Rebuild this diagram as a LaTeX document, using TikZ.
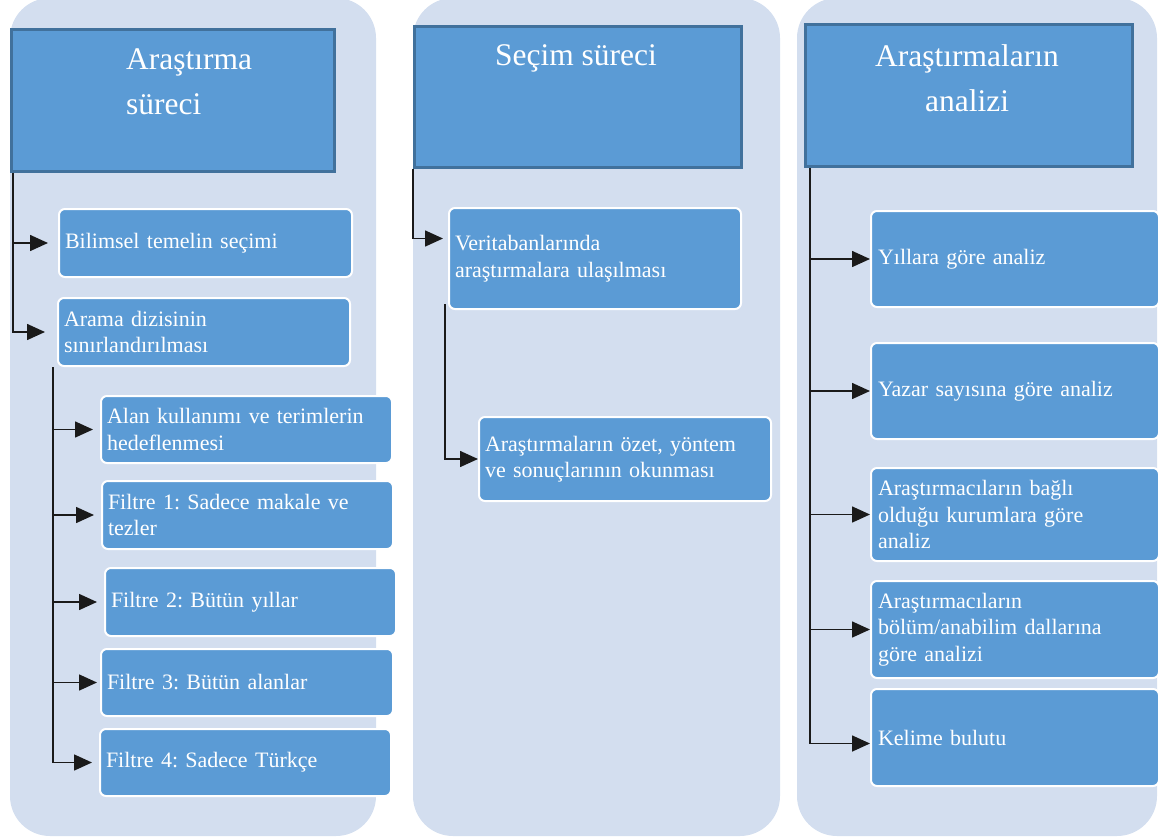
\documentclass[tikz,border=0pt]{standalone}
\usepackage{fontspec}
\setmainfont{Liberation Serif}
\usetikzlibrary{arrows.meta}
\definecolor{colbg}{HTML}{D3DEEF}
\definecolor{boxfill}{HTML}{5B9BD5}
\definecolor{hdrline}{HTML}{41719C}
\definecolor{lineink}{HTML}{1A1A1A}
\tikzset{
  column/.style={fill=colbg, rounded corners=40pt},
  hdr/.style={draw=hdrline, line width=2.5pt, fill=boxfill, anchor=north west, inner sep=0pt},
  hdrtext/.style={text=white, font=\fontsize{31.5}{45}\selectfont, inner sep=0pt},
  item/.style={draw=white, line width=2pt, fill=boxfill, rounded corners=6pt, text=white,
    font=\fontsize{22}{26.5}\selectfont, align=left, inner xsep=6pt, inner ysep=0pt, anchor=north west},
  conn/.style={draw=lineink, line width=1.6pt, -{Triangle[length=18pt,width=16pt]}},
}
\frenchspacing
\begin{document}
\begin{tikzpicture}[x=1pt,y=-1pt]
\useasboundingbox (0,0) rectangle (1159,838);
% columns
\fill[column] (10,-2) rectangle (376,836);
\fill[column] (413,-2) rectangle (780,836);
\fill[column] (797,-2) rectangle (1157,836);
% headers
\node[hdr, minimum width=323pt, minimum height=142pt] (h1) at (10,28) {};
\node[hdr, minimum width=327pt, minimum height=141pt] (h2) at (413,25) {};
\node[hdr, minimum width=327pt, minimum height=142pt] (h3) at (804,23) {};
\node[hdrtext, anchor=north west, align=left] (t1) at (126,49) {Araştırma\\süreci};
\node[hdrtext, anchor=north] (t2) at (576,44) {Seçim süreci};
\node[hdrtext, anchor=north, align=center] (t3) at (967,44) {Araştırmaların\\analizi};
% column 1 items
\node[item, text width=281pt, minimum height=68pt] (bil) at (58,208) {Bilimsel temelin seçimi};
\node[item, text width=280pt, minimum height=68pt] (ara) at (57,297) {Arama dizisinin\\sınırlandırılması};
\node[item, text width=279pt, minimum height=67pt] (alan) at (100,395) {Alan kullanımı ve terimlerin\\hedeflenmesi};
\node[item, text width=279pt, minimum height=68pt] (f1) at (101,480) {Filtre 1: Sadece makale ve\\tezler};
\node[item, text width=279pt, minimum height=68pt] (f2) at (104,567) {Filtre 2: Bütün yıllar};
\node[item, text width=280pt, minimum height=67pt] (f3) at (100,648) {Filtre 3: Bütün alanlar};
\node[item, text width=279pt, minimum height=67pt] (f4) at (99,728) {Filtre 4: Sadece Türkçe};
% column 2 items
\node[item, text width=280pt, minimum height=101pt] (veri) at (448,207) {Veritabanlarında\\araştırmalara ulaşılması};
\node[item, text width=280pt, minimum height=84pt] (ozet) at (478,416) {Araştırmaların özet, yöntem\\ve sonuçlarının okunması};
% column 3 items
\node[item, inner xsep=7pt, text width=274pt, minimum height=96pt] (yil) at (870,210) {Yıllara göre analiz};
\node[item, inner xsep=7pt, text width=274pt, minimum height=96pt] (yaz) at (870,342) {Yazar sayısına göre analiz};
\node[item, inner xsep=7pt, text width=274pt, minimum height=93pt] (bag) at (870,467) {Araştırmacıların bağlı\\olduğu kurumlara göre\\analiz};
\node[item, inner xsep=7pt, text width=274pt, minimum height=97pt] (bol) at (870,580) {Araştırmacıların\\bölüm/anabilim dallarına\\göre analizi};
\node[item, inner xsep=7pt, text width=274pt, minimum height=97pt] (kel) at (870,688) {Kelime bulutu};
% connectors column 1
\coordinate (v1) at ([xshift=3pt]h1.south west);
\draw[conn] (v1) |- ([xshift=-12pt]ara.west);
\draw[conn] (v1 |- bil.west) -- ([xshift=-10pt]bil.west);
\coordinate (v2) at ([xshift=-4pt]ara.south west);
\draw[conn] (v2) |- ([xshift=-7pt]f4.west);
\draw[conn] (v2 |- alan.west) -- ([xshift=-7pt]alan.west);
\draw[conn] (v2 |- f1.west) -- ([xshift=-7pt]f1.west);
\draw[conn] (v2 |- f2.west) -- ([xshift=-7pt]f2.west);
\draw[conn] (v2 |- f3.west) -- ([xshift=-3pt]f3.west);
% connectors column 2
\coordinate (v3) at (h2.south west);
\draw[conn] (v3) |- ([xshift=-5pt,yshift=20pt]veri.west);
\coordinate (v4) at ([xshift=-3pt,yshift=6pt]veri.south west);
\draw[conn] (v4) |- (ozet.west);
% connectors column 3
\coordinate (v5) at ([xshift=6pt]h3.south west);
\draw[conn] (v5) |- ([yshift=-6pt]kel.west);
\draw[conn] (v5 |- yil.west) -- (yil.west);
\draw[conn] (v5 |- yaz.west) -- (yaz.west);
\draw[conn] (v5 |- bag.west) -- (bag.west);
\draw[conn] (v5 |- bol.west) -- (bol.west);
\end{tikzpicture}
\end{document}
